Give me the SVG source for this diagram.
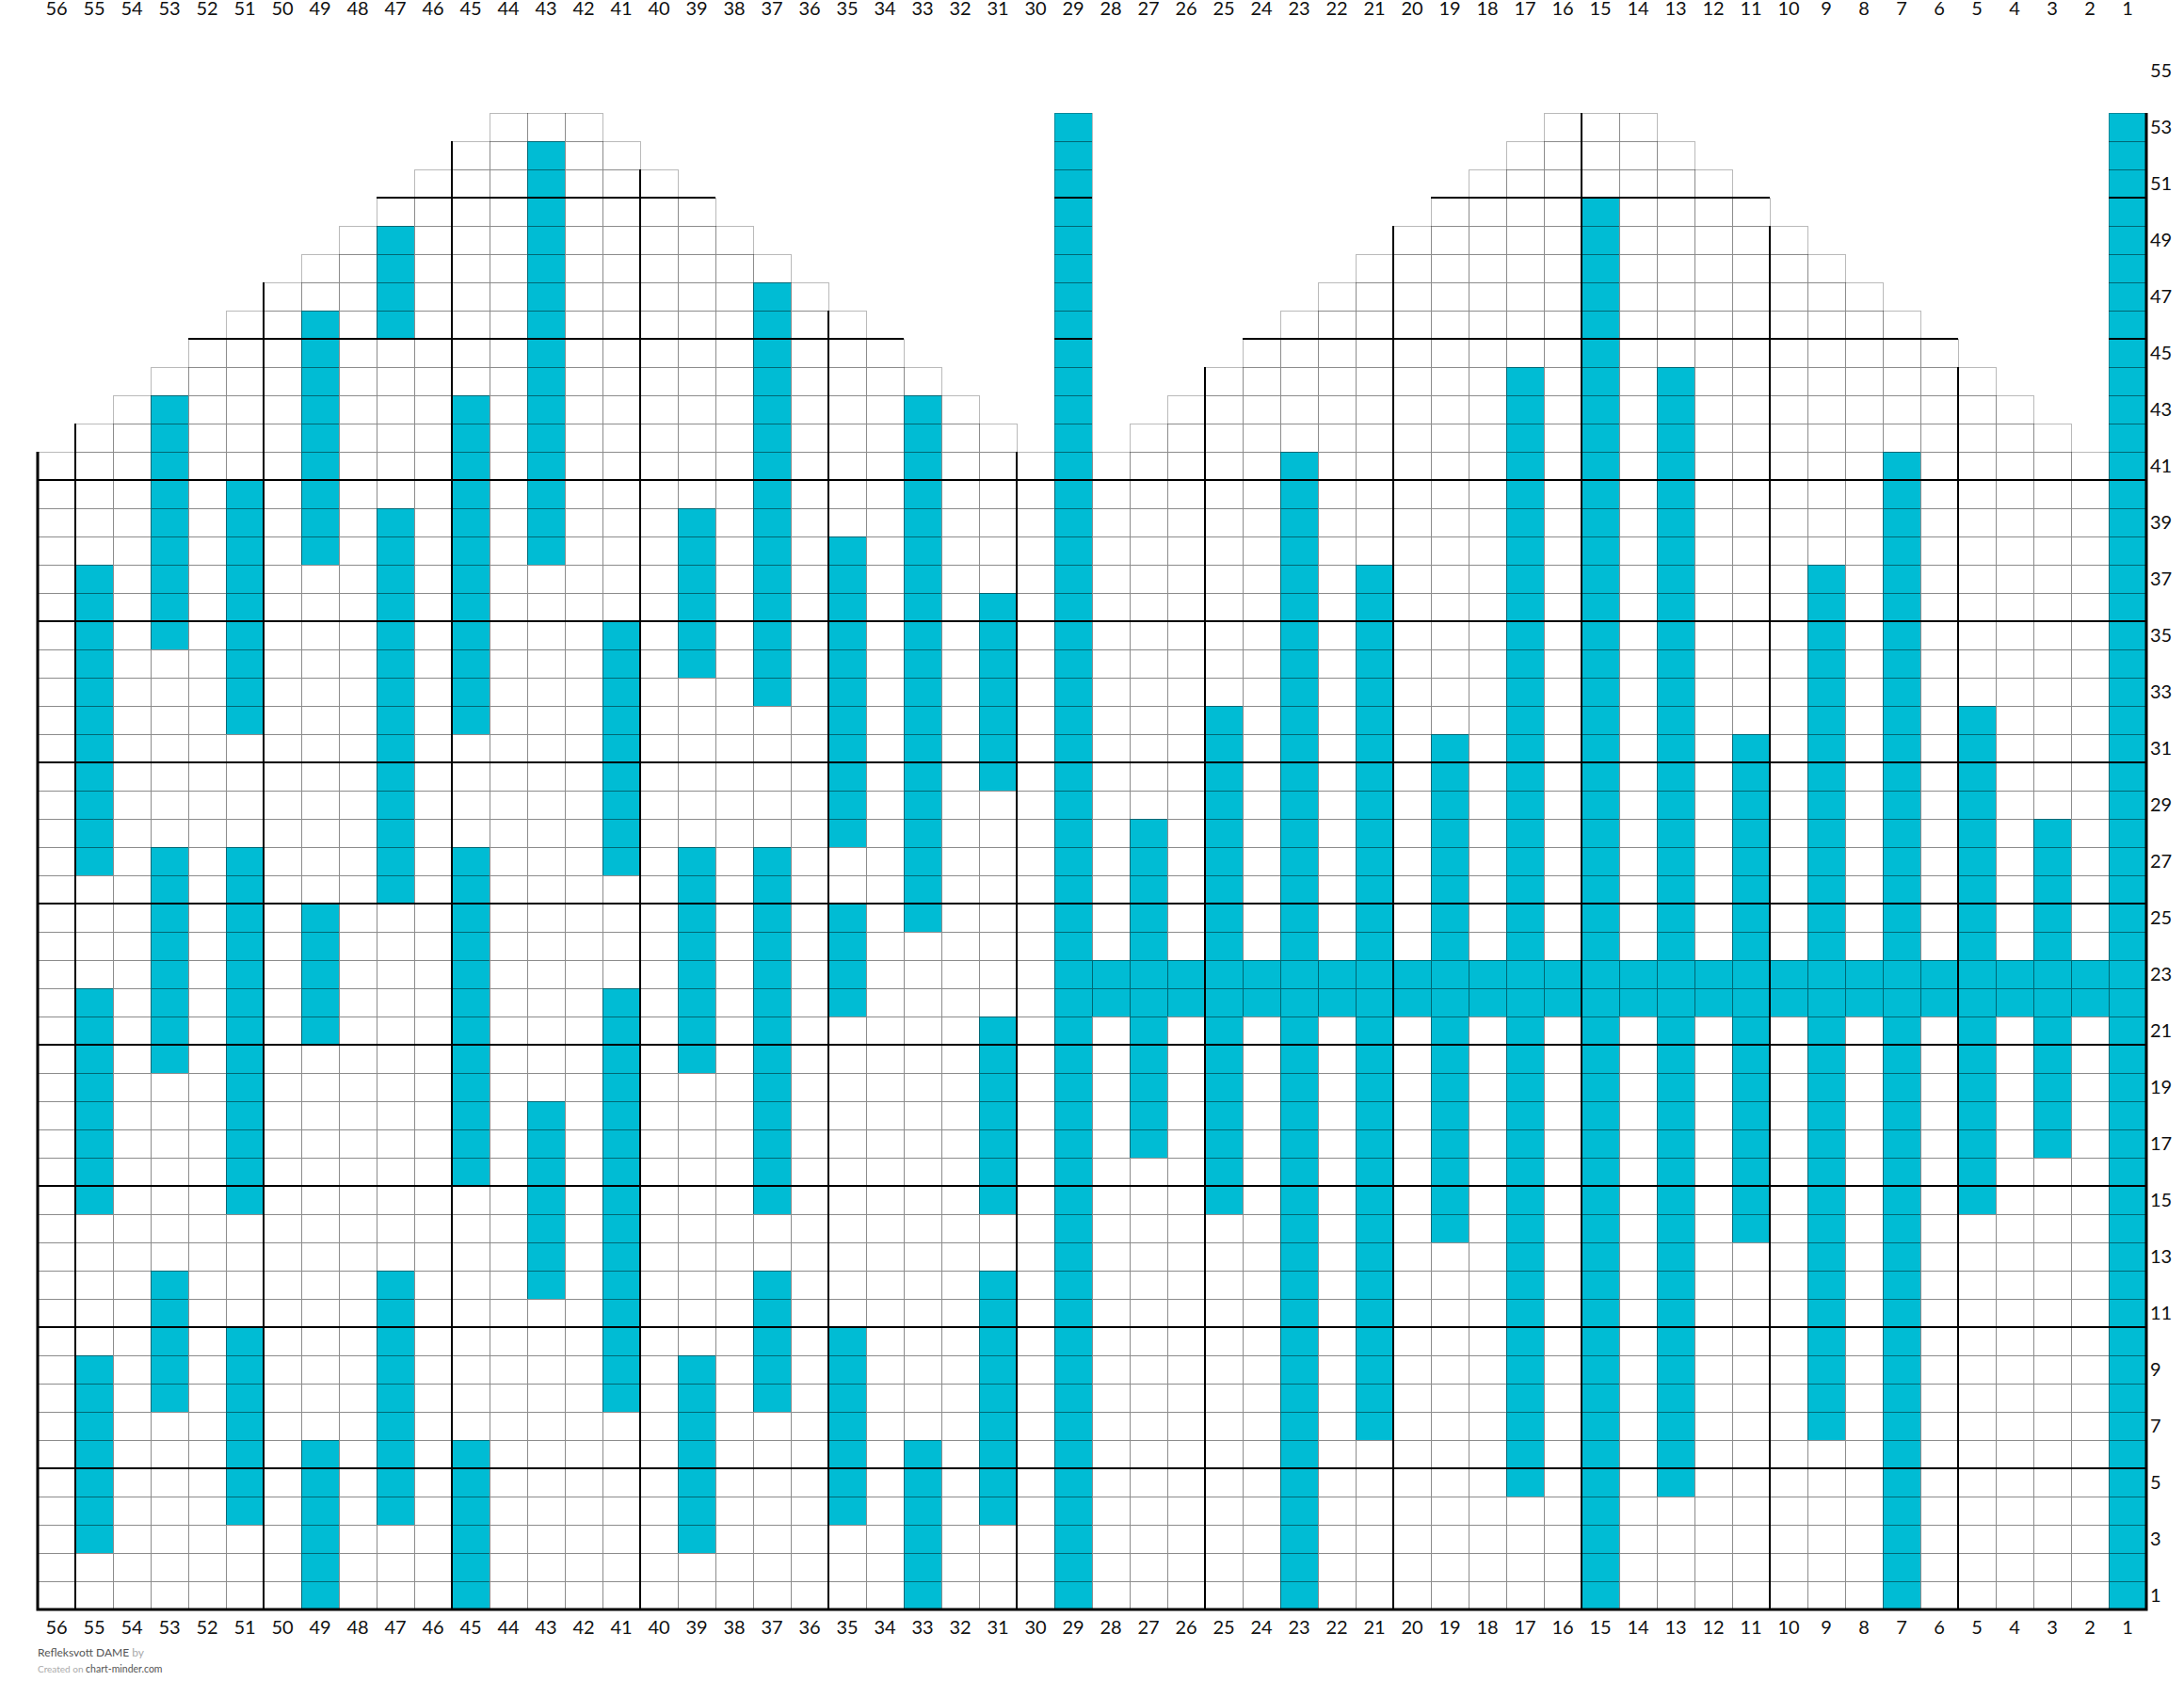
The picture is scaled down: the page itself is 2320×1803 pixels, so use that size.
<svg xmlns="http://www.w3.org/2000/svg" width="2320" height="1803" viewBox="0 0 2320 1803">
<style>
.b{fill:#00bcd4}
.thin{fill:none;stroke:rgba(0,0,0,0.45);stroke-width:1;shape-rendering:crispEdges}
.outer{fill:none;stroke:rgba(0,0,0,0.27);stroke-width:1;shape-rendering:crispEdges}
.thick{fill:none;stroke:#000;stroke-width:2;shape-rendering:crispEdges}
.border{fill:none;stroke:#000;stroke-width:3;stroke-linejoin:miter}
.lbl{font-family:Lato,'Liberation Sans',sans-serif;font-size:20px;fill:#111}
.mid{text-anchor:middle}
.foot{font-family:Lato,'Liberation Sans',sans-serif}
</style>
<rect x="0" y="0" width="2320" height="1803" fill="#fff"/>
<g id="stitches">
<rect class="b" x="80" y="600" width="40" height="330"/>
<rect class="b" x="80" y="1050" width="40" height="240"/>
<rect class="b" x="80" y="1440" width="40" height="210"/>
<rect class="b" x="160" y="420" width="40" height="270"/>
<rect class="b" x="160" y="900" width="40" height="240"/>
<rect class="b" x="160" y="1350" width="40" height="150"/>
<rect class="b" x="240" y="510" width="40" height="270"/>
<rect class="b" x="240" y="900" width="40" height="390"/>
<rect class="b" x="240" y="1410" width="40" height="210"/>
<rect class="b" x="320" y="330" width="40" height="270"/>
<rect class="b" x="320" y="960" width="40" height="150"/>
<rect class="b" x="320" y="1530" width="40" height="180"/>
<rect class="b" x="400" y="240" width="40" height="120"/>
<rect class="b" x="400" y="540" width="40" height="420"/>
<rect class="b" x="400" y="1350" width="40" height="270"/>
<rect class="b" x="480" y="420" width="40" height="360"/>
<rect class="b" x="480" y="900" width="40" height="360"/>
<rect class="b" x="480" y="1530" width="40" height="180"/>
<rect class="b" x="560" y="150" width="40" height="450"/>
<rect class="b" x="560" y="1170" width="40" height="210"/>
<rect class="b" x="640" y="660" width="40" height="270"/>
<rect class="b" x="640" y="1050" width="40" height="450"/>
<rect class="b" x="720" y="540" width="40" height="180"/>
<rect class="b" x="720" y="900" width="40" height="240"/>
<rect class="b" x="720" y="1440" width="40" height="210"/>
<rect class="b" x="800" y="300" width="40" height="450"/>
<rect class="b" x="800" y="900" width="40" height="390"/>
<rect class="b" x="800" y="1350" width="40" height="150"/>
<rect class="b" x="880" y="570" width="40" height="330"/>
<rect class="b" x="880" y="960" width="40" height="120"/>
<rect class="b" x="880" y="1410" width="40" height="210"/>
<rect class="b" x="960" y="420" width="40" height="570"/>
<rect class="b" x="960" y="1530" width="40" height="180"/>
<rect class="b" x="1040" y="630" width="40" height="210"/>
<rect class="b" x="1040" y="1080" width="40" height="210"/>
<rect class="b" x="1040" y="1350" width="40" height="270"/>
<rect class="b" x="1120" y="120" width="40" height="1590"/>
<rect class="b" x="1160" y="1020" width="1120" height="60"/>
<rect class="b" x="1200" y="870" width="40" height="360"/>
<rect class="b" x="1280" y="750" width="40" height="540"/>
<rect class="b" x="1360" y="480" width="40" height="1230"/>
<rect class="b" x="1440" y="600" width="40" height="930"/>
<rect class="b" x="1520" y="780" width="40" height="540"/>
<rect class="b" x="1600" y="390" width="40" height="1200"/>
<rect class="b" x="1680" y="210" width="40" height="1500"/>
<rect class="b" x="1760" y="390" width="40" height="1200"/>
<rect class="b" x="1840" y="780" width="40" height="540"/>
<rect class="b" x="1920" y="600" width="40" height="930"/>
<rect class="b" x="2000" y="480" width="40" height="1230"/>
<rect class="b" x="2080" y="750" width="40" height="540"/>
<rect class="b" x="2160" y="870" width="40" height="360"/>
<rect class="b" x="2240" y="120" width="40" height="1590"/>
</g>
<g id="grid">
<path class="thin" d="M40 1680H2280M40 1650H2280M40 1620H2280M40 1590H2280M40 1560H2280M40 1530H2280M40 1500H2280M40 1470H2280M40 1440H2280M40 1410H2280M40 1380H2280M40 1350H2280M40 1320H2280M40 1290H2280M40 1260H2280M40 1230H2280M40 1200H2280M40 1170H2280M40 1140H2280M40 1110H2280M40 1080H2280M40 1050H2280M40 1020H2280M40 990H2280M40 960H2280M40 930H2280M40 900H2280M40 870H2280M40 840H2280M40 810H2280M40 780H2280M40 750H2280M40 720H2280M40 690H2280M40 660H2280M40 630H2280M40 600H2280M40 570H2280M40 540H2280M40 510H2280
M80 480H1080M1120 480H1160M1200 480H2200M2240 480H2280
M120 450H1040M1120 450H1160M1240 450H2160M2240 450H2280
M160 420H1000M1120 420H1160M1280 420H2120M2240 420H2280
M200 390H960M1120 390H1160M1320 390H2080M2240 390H2280
M240 360H920M1120 360H1160M1360 360H2040M2240 360H2280
M280 330H880M1120 330H1160M1400 330H2000M2240 330H2280
M320 300H840M1120 300H1160M1440 300H1960M2240 300H2280
M360 270H800M1120 270H1160M1480 270H1920M2240 270H2280
M400 240H760M1120 240H1160M1520 240H1880M2240 240H2280
M440 210H720M1120 210H1160M1560 210H1840M2240 210H2280
M480 180H680M1120 180H1160M1600 180H1800M2240 180H2280
M520 150H640M1120 150H1160M1640 150H1760M2240 150H2280
M80 480V1710M120 450V1710M160 420V1710M200 390V1710M240 360V1710M280 330V1710M320 300V1710M360 270V1710M400 240V1710M440 210V1710M480 180V1710M520 150V1710M560 120V1710M600 120V1710M640 150V1710M680 180V1710M720 210V1710M760 240V1710M800 270V1710M840 300V1710M880 330V1710M920 360V1710M960 390V1710M1000 420V1710M1040 450V1710M1080 480V1710M1120 480V1710M1160 480V1710M1200 480V1710M1240 450V1710M1280 420V1710M1320 390V1710M1360 360V1710M1400 330V1710M1440 300V1710M1480 270V1710M1520 240V1710M1560 210V1710M1600 180V1710M1640 150V1710M1680 120V1710M1720 120V1710M1760 150V1710M1800 180V1710M1840 210V1710M1880 240V1710M1920 270V1710M1960 300V1710M2000 330V1710M2040 360V1710M2080 390V1710M2120 420V1710M2160 450V1710M2200 480V1710M2240 480V1710"/>
<path class="outer" d="M40 480H80V450H120V420H160V390H200V360H240V330H280V300H320V270H360V240H400V210H440V180H480V150H520V120H640V150H680V180H720V210H760V240H800V270H840V300H880V330H920V360H960V390H1000V420H1040V450H1080V480H1120V120H1160V480H1200V450H1240V420H1280V390H1320V360H1360V330H1400V300H1440V270H1480V240H1520V210H1560V180H1600V150H1640V120H1760V150H1800V180H1840V210H1880V240H1920V270H1960V300H2000V330H2040V360H2080V390H2120V420H2160V450H2200V480H2240V120H2280"/>
<path class="thick" d="M80 450V1710M280 300V1710M480 150V1710M680 180V1710M880 330V1710M1080 480V1710M1280 390V1710M1480 240V1710M1680 120V1710M1880 240V1710M2080 390V1710
M40 1560H2280M40 1410H2280M40 1260H2280M40 1110H2280M40 960H2280M40 810H2280M40 660H2280M40 510H2280
M200 360H960M1120 360H1160M1320 360H2080M2240 360H2280
M400 210H760M1120 210H1160M1520 210H1880M2240 210H2280"/>
<path class="border" d="M40 480V1710H2280V120"/>
</g>
<g id="col-labels-top" class="lbl mid">
<text x="60" y="16">56</text><text x="100" y="16">55</text><text x="140" y="16">54</text><text x="180" y="16">53</text><text x="220" y="16">52</text><text x="260" y="16">51</text><text x="300" y="16">50</text><text x="340" y="16">49</text><text x="380" y="16">48</text><text x="420" y="16">47</text><text x="460" y="16">46</text><text x="500" y="16">45</text><text x="540" y="16">44</text><text x="580" y="16">43</text><text x="620" y="16">42</text><text x="660" y="16">41</text><text x="700" y="16">40</text><text x="740" y="16">39</text><text x="780" y="16">38</text><text x="820" y="16">37</text><text x="860" y="16">36</text><text x="900" y="16">35</text><text x="940" y="16">34</text><text x="980" y="16">33</text><text x="1020" y="16">32</text><text x="1060" y="16">31</text><text x="1100" y="16">30</text><text x="1140" y="16">29</text><text x="1180" y="16">28</text><text x="1220" y="16">27</text><text x="1260" y="16">26</text><text x="1300" y="16">25</text><text x="1340" y="16">24</text><text x="1380" y="16">23</text><text x="1420" y="16">22</text><text x="1460" y="16">21</text><text x="1500" y="16">20</text><text x="1540" y="16">19</text><text x="1580" y="16">18</text><text x="1620" y="16">17</text><text x="1660" y="16">16</text><text x="1700" y="16">15</text><text x="1740" y="16">14</text><text x="1780" y="16">13</text><text x="1820" y="16">12</text><text x="1860" y="16">11</text><text x="1900" y="16">10</text><text x="1940" y="16">9</text><text x="1980" y="16">8</text><text x="2020" y="16">7</text><text x="2060" y="16">6</text><text x="2100" y="16">5</text><text x="2140" y="16">4</text><text x="2180" y="16">3</text><text x="2220" y="16">2</text><text x="2260" y="16">1</text>
</g>
<g id="col-labels-bottom" class="lbl mid">
<text x="60" y="1736">56</text><text x="100" y="1736">55</text><text x="140" y="1736">54</text><text x="180" y="1736">53</text><text x="220" y="1736">52</text><text x="260" y="1736">51</text><text x="300" y="1736">50</text><text x="340" y="1736">49</text><text x="380" y="1736">48</text><text x="420" y="1736">47</text><text x="460" y="1736">46</text><text x="500" y="1736">45</text><text x="540" y="1736">44</text><text x="580" y="1736">43</text><text x="620" y="1736">42</text><text x="660" y="1736">41</text><text x="700" y="1736">40</text><text x="740" y="1736">39</text><text x="780" y="1736">38</text><text x="820" y="1736">37</text><text x="860" y="1736">36</text><text x="900" y="1736">35</text><text x="940" y="1736">34</text><text x="980" y="1736">33</text><text x="1020" y="1736">32</text><text x="1060" y="1736">31</text><text x="1100" y="1736">30</text><text x="1140" y="1736">29</text><text x="1180" y="1736">28</text><text x="1220" y="1736">27</text><text x="1260" y="1736">26</text><text x="1300" y="1736">25</text><text x="1340" y="1736">24</text><text x="1380" y="1736">23</text><text x="1420" y="1736">22</text><text x="1460" y="1736">21</text><text x="1500" y="1736">20</text><text x="1540" y="1736">19</text><text x="1580" y="1736">18</text><text x="1620" y="1736">17</text><text x="1660" y="1736">16</text><text x="1700" y="1736">15</text><text x="1740" y="1736">14</text><text x="1780" y="1736">13</text><text x="1820" y="1736">12</text><text x="1860" y="1736">11</text><text x="1900" y="1736">10</text><text x="1940" y="1736">9</text><text x="1980" y="1736">8</text><text x="2020" y="1736">7</text><text x="2060" y="1736">6</text><text x="2100" y="1736">5</text><text x="2140" y="1736">4</text><text x="2180" y="1736">3</text><text x="2220" y="1736">2</text><text x="2260" y="1736">1</text>
</g>
<g id="row-labels" class="lbl">
<text x="2284" y="1702">1</text><text x="2284" y="1642">3</text><text x="2284" y="1582">5</text><text x="2284" y="1522">7</text><text x="2284" y="1462">9</text><text x="2284" y="1402">11</text><text x="2284" y="1342">13</text><text x="2284" y="1282">15</text><text x="2284" y="1222">17</text><text x="2284" y="1162">19</text><text x="2284" y="1102">21</text><text x="2284" y="1042">23</text><text x="2284" y="982">25</text><text x="2284" y="922">27</text><text x="2284" y="862">29</text><text x="2284" y="802">31</text><text x="2284" y="742">33</text><text x="2284" y="682">35</text><text x="2284" y="622">37</text><text x="2284" y="562">39</text><text x="2284" y="502">41</text><text x="2284" y="442">43</text><text x="2284" y="382">45</text><text x="2284" y="322">47</text><text x="2284" y="262">49</text><text x="2284" y="202">51</text><text x="2284" y="142">53</text><text x="2284" y="82">55</text>
</g>
<g id="footer" class="foot">
<text x="40" y="1760" font-size="12" fill="#555">Refleksvott DAME <tspan fill="#aaa">by</tspan></text>
<text x="40" y="1777" font-size="10" fill="#aaa">Created on <tspan fill="#555" font-size="10.5">chart-minder.com</tspan></text>
</g>
</svg>
